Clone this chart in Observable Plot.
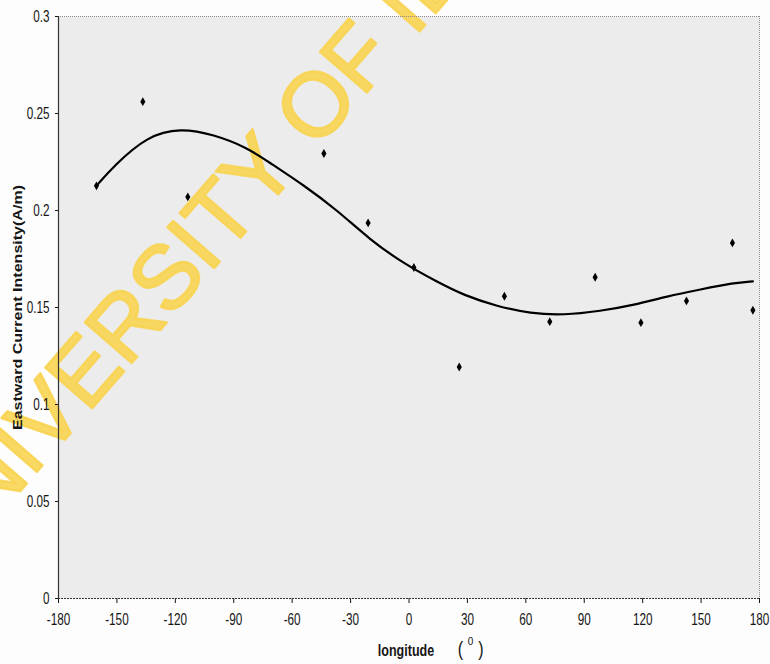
<!DOCTYPE html>
<html>
<head>
<meta charset="utf-8">
<script src="https://cdn.jsdelivr.net/npm/d3@7"></script>
<script src="https://cdn.jsdelivr.net/npm/@observablehq/plot@0.6"></script>
<style>
  html, body { margin: 0; padding: 0; background: #fdfdfd; }
  #chart { width: 770px; height: 664px; }
</style>
</head>
<body>
<div id="chart"></div>
<script>
// Observed data (longitude in degrees, eastward current intensity in A/m)
const longitude = [-160.5, -136.7, -113.6, -43.7, -21.0, 2.5, 25.8, 49.0, 72.3, 95.6, 119.1, 142.5, 166.1, 176.6];
const intensity = [0.2127, 0.2561, 0.2070, 0.2294, 0.1936, 0.1706, 0.1193, 0.1558, 0.1427, 0.1656, 0.1422, 0.1534, 0.1833, 0.1486];

// Trend line
const trendLongitude = [-160.5, -151.8, -134.4, -117.3, -100.4, -83.1, -71.1, -54.0, -36.9, -19.8, -2.8, 14.5, 28.1, 45.3, 62.4, 79.5, 98.3, 115.5, 132.6, 149.7, 166.8, 176.6];
const trendIntensity = [0.2127, 0.2228, 0.2385, 0.2425, 0.2392, 0.2325, 0.2243, 0.2130, 0.2002, 0.1847, 0.1727, 0.1632, 0.1563, 0.1506, 0.1469, 0.1460, 0.1482, 0.1512, 0.1558, 0.1593, 0.1627, 0.1635];

// Axis ticks and labels
const xTicks = [-180, -150, -120, -90, -60, -30, 0, 30, 60, 90, 120, 150, 180];
const xTickLabels = ["-180", "-150", "-120", "-90", "-60", "-30", "0", "30", "60", "90", "120", "150", "180"];
const yTicks = [0, 0.05, 0.1, 0.15, 0.2, 0.25, 0.3];
const yTickLabels = ["0", "0.05", "0.1", "0.15", "0.2", "0.25", "0.3"];

const yLabel = "Eastward Current Intensity(A/m)";
const xLabel = "longitude";
const unitOpen = "(";
const unitClose = ")";
const unitDegree = "0";
const watermark = "UNIVERSITY OF IBADAN";

const points = longitude.map((x, i) => ({x, y: intensity[i]}));
const trend = trendLongitude.map((x, i) => ({x, y: trendIntensity[i]}));

const sans = "'Liberation Sans', Arial, sans-serif";

const chart = Plot.plot({
  width: 770,
  height: 664,
  marginLeft: 58,
  marginRight: 11,
  marginTop: 16,
  marginBottom: 66,
  x: {domain: [-180, 180]},
  y: {domain: [0, 0.3]},
  style: {fontFamily: sans, fontSize: "17px", color: "#161616", background: "transparent", overflow: "hidden"},
  marks: [
    Plot.frame({fill: "#ececec", stroke: null}),
    Plot.text([watermark], {
      text: d => d, frameAnchor: "top-left", dx: 210, dy: 145, rotate: -49,
      textAnchor: "middle", lineAnchor: "middle",
      fontSize: 90, fontWeight: "normal", fontFamily: sans,
      fill: "#f8d452", stroke: "#f8d452", strokeWidth: 2.5, fillOpacity: 0.9, strokeOpacity: 0.9
    }),
    Plot.ruleY([0.3], {stroke: "#8a8a8a", strokeDasharray: "1,1"}),
    Plot.ruleX([180], {stroke: "#8a8a8a", strokeDasharray: "1,1"}),
    Plot.axisX({ticks: xTicks, tickFormat: d => xTickLabels[xTicks.indexOf(d)], tickSize: 5, tickPadding: 9, label: null, fontSize: 17}),
    Plot.axisY({ticks: yTicks, tickFormat: d => yTickLabels[yTicks.indexOf(d)], tickSize: 3, tickPadding: 6, label: null, fontSize: 17}),
    Plot.ruleY([0], {stroke: "#333", strokeDasharray: "2,1", strokeWidth: 1.2}),
    Plot.ruleX([-180], {stroke: "#333", strokeWidth: 1.2}),
    Plot.line(trend, {x: "x", y: "y", curve: "basis", stroke: "#000", strokeWidth: 2.2}),
    Plot.dot(points, {x: "x", y: "y", symbol: "diamond", r: 2.7, fill: "#000", stroke: null}),
    Plot.text([yLabel], {
      text: d => d, frameAnchor: "left", dx: -41, dy: 0, rotate: -90,
      textAnchor: "middle", lineAnchor: "middle",
      fontSize: 12.5, fontWeight: "bold", fontFamily: sans, fill: "#161616"
    }),
    Plot.text([xLabel], {
      text: d => d, frameAnchor: "bottom", dx: -3, dy: 52,
      textAnchor: "middle", lineAnchor: "middle",
      fontSize: 16.5, fontWeight: "bold", fill: "#161616"
    }),
    Plot.text([unitOpen], {text: d => d, frameAnchor: "bottom", dx: 51.5, dy: 51, textAnchor: "middle", lineAnchor: "middle", fontSize: 20, fill: "#161616"}),
    Plot.text([unitDegree], {text: d => d, frameAnchor: "bottom", dx: 61.5, dy: 43, textAnchor: "middle", lineAnchor: "middle", fontSize: 10, fill: "#161616"}),
    Plot.text([unitClose], {text: d => d, frameAnchor: "bottom", dx: 72, dy: 51, textAnchor: "middle", lineAnchor: "middle", fontSize: 20, fill: "#161616"})
  ]
});
document.getElementById("chart").appendChild(chart);

// The scanned chart is stretched vertically: compress the text horizontally to match
function squeeze(nodes, factor) {
  nodes.forEach(node => {
    const len = node.getComputedTextLength();
    if (len > 0) {
      node.setAttribute("textLength", (len * factor).toFixed(2));
      node.setAttribute("lengthAdjust", "spacingAndGlyphs");
    }
  });
}
const allTexts = Array.from(chart.querySelectorAll("text"));
const tickTexts = Array.from(chart.querySelectorAll('g[aria-label="x-axis tick label"] text, g[aria-label="y-axis tick label"] text'));
squeeze(tickTexts, 0.69);
squeeze(allTexts.filter(t => t.textContent === xLabel), 0.76);
squeeze(allTexts.filter(t => t.textContent === unitOpen || t.textContent === unitClose), 0.8);
allTexts.filter(t => t.textContent === yLabel).forEach(t => {
  t.setAttribute("textLength", 245);
  t.setAttribute("lengthAdjust", "spacingAndGlyphs");
});
</script>
</body>
</html>
